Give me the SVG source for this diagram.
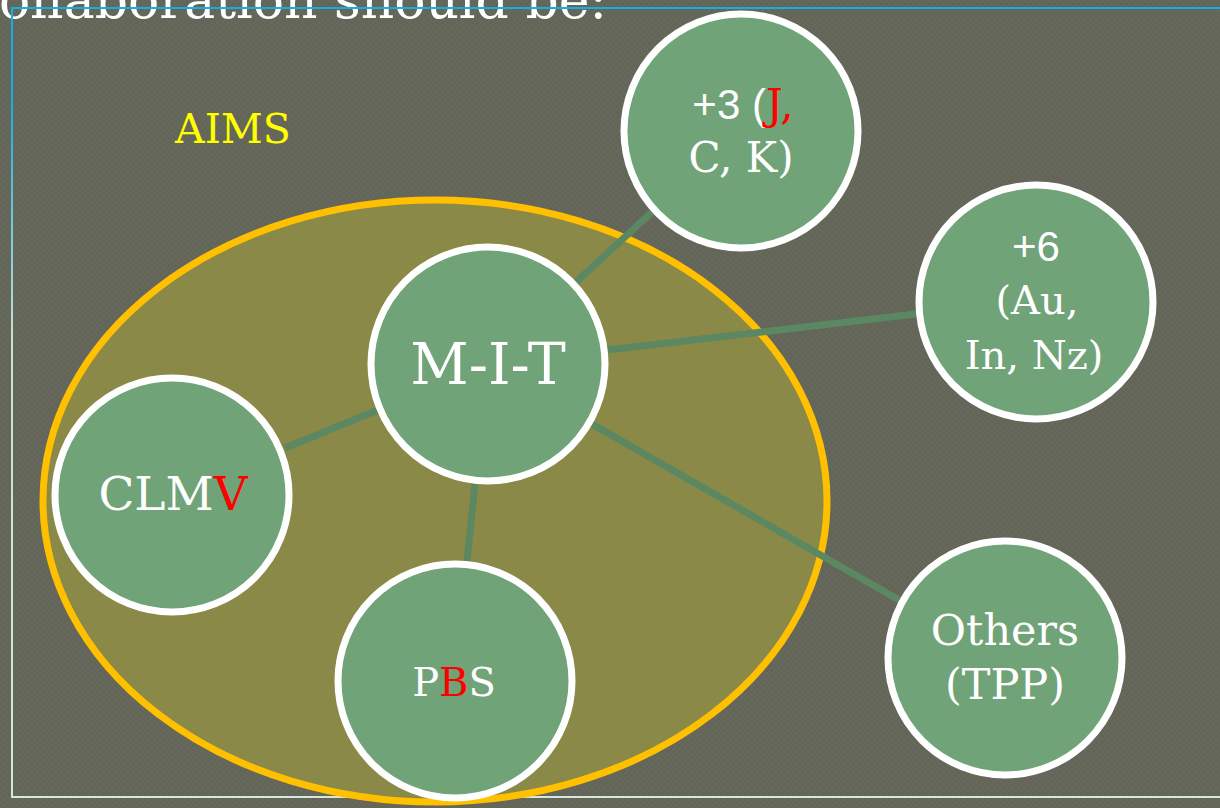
<svg xmlns="http://www.w3.org/2000/svg" width="1220" height="808" viewBox="0 0 1220 808">
  <defs>
    <pattern id="bgtex" width="6" height="6" patternUnits="userSpaceOnUse">
      <rect width="6" height="6" fill="#66685a"/>
      <rect width="3" height="3" fill="#63655a"/>
      <rect x="3" y="3" width="3" height="3" fill="#63655a"/>
    </pattern>
    <linearGradient id="frameGrad" gradientUnits="userSpaceOnUse" x1="0" y1="8" x2="0" y2="797">
      <stop offset="0" stop-color="#17ace6"/>
      <stop offset="0.12" stop-color="#17ace6"/>
      <stop offset="0.42" stop-color="#c9e2d2"/>
      <stop offset="1" stop-color="#d6e8da"/>
    </linearGradient>
    <style>
      .node circle { fill: #70a377; stroke: #ffffff; stroke-width: 7; }
      .lbl { font-family: "DejaVu Serif", "Liberation Serif", serif; fill: #ffffff; text-anchor: middle; }
      .sans { font-family: "Liberation Sans", Arial, sans-serif; }
      .red { fill: #ff0000; }
      .conn line { stroke: #5b8862; stroke-width: 7; }
    </style>
  </defs>

  <rect width="1220" height="808" fill="url(#bgtex)"/>

  <text x="607" y="18" font-family="DejaVu Serif, serif" font-size="52" fill="#ffffff" text-anchor="end">Collaboration should be:</text>

  <path d="M1220,8 H12 V797 H1220" fill="none" stroke="url(#frameGrad)" stroke-width="2"/>

  <text x="233" y="143" font-family="DejaVu Serif, serif" font-size="41" fill="#ffff00" text-anchor="middle">AIMS</text>

  <g id="aims-region">
    <ellipse cx="435" cy="501" rx="392" ry="301" fill="#8a8947" stroke="#ffc000" stroke-width="7"/>
  </g>

  <g id="connectors" class="conn">
    <line x1="575" y1="283" x2="652" y2="212"/>
    <line x1="607" y1="350" x2="916" y2="314"/>
    <line x1="378" y1="410" x2="285" y2="448"/>
    <line x1="475" y1="484" x2="467" y2="561"/>
    <line x1="592" y1="424" x2="899" y2="600"/>
  </g>

  <g id="node-plus3" class="node">
    <circle cx="741" cy="131" r="117"/>
    <text class="lbl" x="743" y="119" font-size="42"><tspan class="sans">+3 (</tspan><tspan class="red">J,</tspan></text>
    <text class="lbl" x="741" y="172" font-size="42">C, K)</text>
  </g>

  <g id="node-plus6" class="node">
    <circle cx="1036" cy="302" r="117"/>
    <text class="lbl sans" x="1036" y="261" font-size="42">+6</text>
    <text class="lbl" x="1037" y="314" font-size="40">(Au,</text>
    <text class="lbl" x="1034" y="369" font-size="40">In, Nz)</text>
  </g>

  <g id="node-mit" class="node">
    <circle cx="488" cy="364" r="117"/>
    <text class="lbl" x="488" y="384" font-size="57">M-I-T</text>
  </g>

  <g id="node-clmv" class="node">
    <circle cx="172" cy="495" r="117"/>
    <text class="lbl" x="173" y="510" font-size="47">CLM<tspan class="red">V</tspan></text>
  </g>

  <g id="node-pbs" class="node">
    <circle cx="455" cy="681" r="117"/>
    <text class="lbl" x="454" y="696" font-size="40">P<tspan class="red">B</tspan>S</text>
  </g>

  <g id="node-others" class="node">
    <circle cx="1005" cy="658" r="117"/>
    <text class="lbl" x="1005" y="645" font-size="43">Others</text>
    <text class="lbl" x="1005" y="699" font-size="43">(TPP)</text>
  </g>
</svg>
